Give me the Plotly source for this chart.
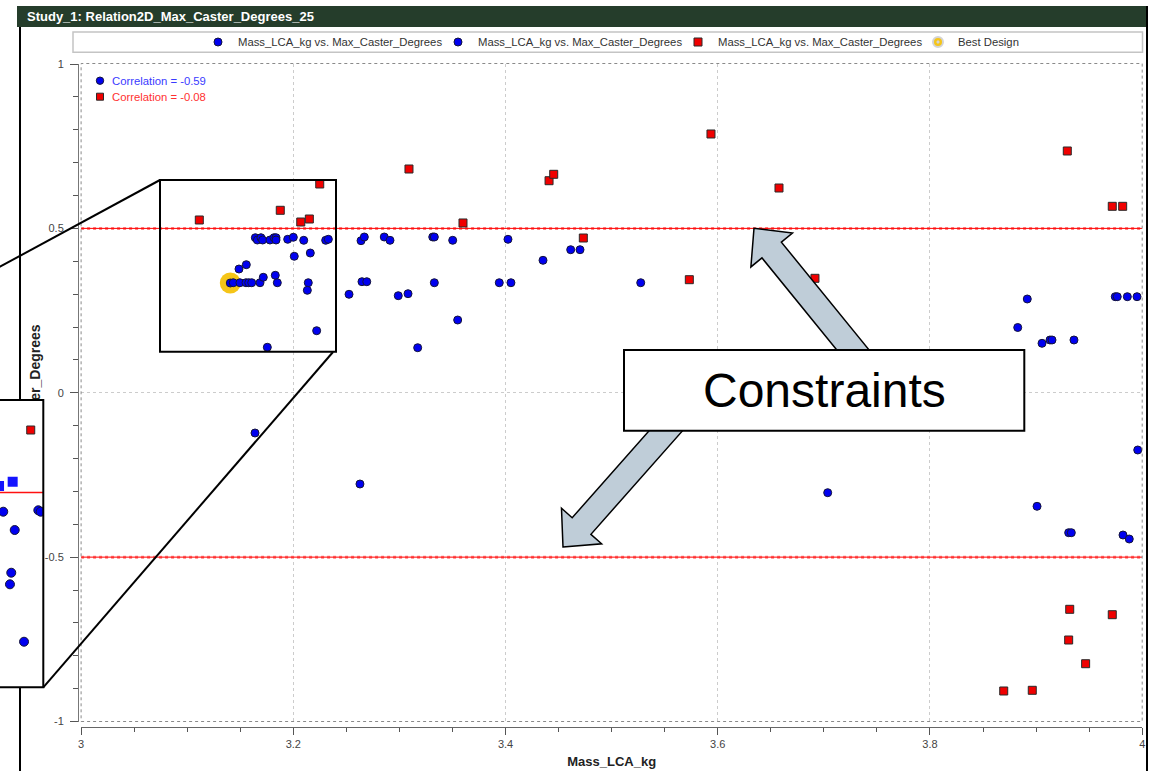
import plotly.graph_objects as go

W, H = 1156, 771

# ---- study results: Mass_LCA_kg vs. Max_Caster_Degrees ----
blue_a_mass = [3.1642, 3.1661, 3.1695, 3.1711, 3.1780, 3.1818, 3.1837, 3.1837, 3.1947, 3.2000,
               3.2098, 3.2305, 3.2330, 3.2009, 3.2160, 3.1488, 3.1557, 3.1406, 3.1434, 3.1497,
               3.1554, 3.1580, 3.1608, 3.1686, 3.1717, 3.1830, 3.1849, 3.2141, 3.2132, 3.2220,
               3.1755, 3.2525, 3.2638, 3.2669, 3.2857, 3.2911, 3.3314, 3.3329, 3.3502, 3.4023,
               3.4353, 3.4614, 3.4702, 3.2647, 3.2692, 3.2989, 3.3081, 3.3329, 3.3941, 3.4051,
               3.3549, 3.3172, 3.5274, 3.7036, 3.1639, 3.2628]
blue_a_caster = [0.4716, 0.4646, 0.4716, 0.4646, 0.4646, 0.4716, 0.4716, 0.4646, 0.4668, 0.4729,
                 0.4637, 0.4637, 0.4668, 0.4151, 0.4251, 0.3764, 0.3895, 0.3338, 0.3347, 0.3347,
                 0.3347, 0.3347, 0.3347, 0.3347, 0.3512, 0.3573, 0.3347, 0.3347, 0.3116, 0.1887,
                 0.1383, 0.2995, 0.4625, 0.4738, 0.4738, 0.4637, 0.4738, 0.4738, 0.4637, 0.4668,
                 0.4029, 0.4351, 0.4351, 0.3378, 0.3378, 0.2952, 0.3013, 0.3347, 0.3347, 0.3347,
                 0.2213, 0.1370, 0.3347, -0.3040, -0.1224, -0.2776]

blue_b_mass = [3.8917, 3.8827, 3.9056, 3.9131, 3.9150, 3.9357, 3.9746, 3.9765, 3.9860, 3.9951,
               3.9958, 3.9009, 3.9307, 3.9332, 3.9819, 3.9878]
blue_b_caster = [0.2852, 0.1985, 0.1504, 0.1605, 0.1605, 0.1605, 0.2922, 0.2922, 0.2922, 0.2922,
                 -0.1741, -0.3454, -0.4257, -0.4257, -0.4327, -0.4449]

red_mass = [3.1114, 3.1877, 3.2070, 3.2151, 3.2249, 3.3090, 3.4410, 3.4454, 3.3599, 3.4733,
            3.5936, 3.6577, 3.5732, 3.6916, 3.9294, 3.9718, 3.9816, 3.9317, 3.9718, 3.9307,
            3.9467, 3.8695, 3.8964]
red_caster = [0.5255, 0.5550, 0.5194, 0.5285, 0.6350, 0.6806, 0.6450, 0.6645, 0.5164, 0.4707,
              0.7871, 0.6228, 0.3439, 0.3481, 0.7354, 0.5671, 0.5671, -0.6587, -0.6751, -0.7521,
              -0.8242, -0.9072, -0.9051]

best_mass = [3.1406]
best_caster = [0.3338]

corr_blue = -0.59
corr_red = -0.08
constraint_limits = [0.5, -0.5]

mass_range = [3.0, 4.0]
caster_range = [-1.0, 1.0]
mass_ticks = [3.0, 3.2, 3.4, 3.6, 3.8, 4.0]
mass_ticktext = ["3", "3.2", "3.4", "3.6", "3.8", "4"]
caster_ticks = [-1.0, -0.5, 0.0, 0.5, 1.0]
caster_ticktext = ["-1", "-0.5", "0", "0.5", "1"]

# ---- magnified detail view ----
zoom_mass_range = [3.20, 3.24]
zoom_caster_range = [0.10, 0.69]
zoom_circle_mass = [3.2030, 3.2354, 3.2376, 3.2136, 3.2104, 3.2092, 3.2222]
zoom_circle_caster = [0.4606, 0.4635, 0.4606, 0.4230, 0.3353, 0.3115, 0.1936]
zoom_square_mass = [3.2117, 3.1991]
zoom_square_caster = [0.5222, 0.5134]
zoom_red_mass = [3.2284]
zoom_red_caster = [0.6284]

SERIES = "Mass_LCA_kg vs. Max_Caster_Degrees"
FONT = "Arial, Liberation Sans, sans-serif"
BLUE = "#0000F0"
RED = "#F00000"
GOLD = "#F5C518"


def px(x):
    return x / W


def py(y):
    return 1 - y / H


def poly_path(points):
    return "M " + " L ".join(f"{px(a):.5f},{py(b):.5f}" for a, b in points) + " Z"


def block_arrow(tip, tail, head_len=28.0, head_half=26.8, shaft_half=12.5):
    dx, dy = tail[0] - tip[0], tail[1] - tip[1]
    n = (dx * dx + dy * dy) ** 0.5
    dx, dy = dx / n, dy / n
    nx, ny = -dy, dx
    bx, by = tip[0] + head_len * dx, tip[1] + head_len * dy
    pts = [tip,
           (bx + head_half * nx, by + head_half * ny),
           (bx + shaft_half * nx, by + shaft_half * ny),
           (tail[0] + shaft_half * nx, tail[1] + shaft_half * ny),
           (tail[0] - shaft_half * nx, tail[1] - shaft_half * ny),
           (bx - shaft_half * nx, by - shaft_half * ny),
           (bx - head_half * nx, by - head_half * ny)]
    return poly_path(pts)


fig = go.Figure()

# constraint limits (hatched band with a solid core line)
for lim in constraint_limits:
    fig.add_trace(go.Scatter(x=mass_range, y=[lim, lim], mode="lines", showlegend=False,
                             line=dict(color="#ff8080", width=3, dash="dot"), hoverinfo="skip"))
    fig.add_trace(go.Scatter(x=mass_range, y=[lim, lim], mode="lines", showlegend=False,
                             line=dict(color="#ff0000", width=1), hoverinfo="skip"))

# best design halo below the points
fig.add_trace(go.Scatter(x=best_mass, y=best_caster, mode="markers", showlegend=False,
                         marker=dict(size=21, color=GOLD, line=dict(width=0)),
                         hoverinfo="skip"))
fig.add_trace(go.Scatter(x=blue_a_mass, y=blue_a_caster, mode="markers", name=SERIES,
                         legendrank=1,
                         marker=dict(symbol="circle", size=8, color=BLUE,
                                     line=dict(color="#14143a", width=1))))
fig.add_trace(go.Scatter(x=blue_b_mass, y=blue_b_caster, mode="markers", name=SERIES,
                         legendrank=2,
                         marker=dict(symbol="circle", size=8, color=BLUE,
                                     line=dict(color="#14143a", width=1))))
fig.add_trace(go.Scatter(x=red_mass, y=red_caster, mode="markers", name=SERIES,
                         legendrank=3,
                         marker=dict(symbol="square", size=8, color=RED,
                                     line=dict(color="#2a2a2a", width=1))))
# legend key for the best design
fig.add_trace(go.Scatter(x=[None], y=[None], mode="markers", name="Best Design",
                         legendrank=4,
                         marker=dict(symbol="circle-dot", size=10, color=GOLD,
                                     line=dict(color="#d4d4d4", width=2))))

# rotated axis caption carried by a tick label on an overlay axis
fig.add_trace(go.Scatter(x=[None], y=[None], yaxis="y3", showlegend=False,
                         hoverinfo="skip"))

# detail view
zx0, zx1 = zoom_mass_range
zy0, zy1 = zoom_caster_range
fig.add_trace(go.Scatter(x=[zx0 - 1, zx1, zx1, zx0 - 1, zx0 - 1],
                         y=[zy0, zy0, zy1, zy1, zy0], xaxis="x2", yaxis="y2",
                         mode="lines", fill="toself", fillcolor="white",
                         line=dict(width=0), showlegend=False, hoverinfo="skip"))
fig.add_trace(go.Scatter(x=[zx0 - 1, zx1], y=[constraint_limits[0]] * 2, xaxis="x2", yaxis="y2",
                         mode="lines", line=dict(color="#ff1010", width=1.6),
                         showlegend=False, hoverinfo="skip"))
fig.add_trace(go.Scatter(x=zoom_red_mass, y=zoom_red_caster, xaxis="x2", yaxis="y2",
                         mode="markers", showlegend=False,
                         marker=dict(symbol="square", size=8, color=RED,
                                     line=dict(color="#2a2a2a", width=1))))
fig.add_trace(go.Scatter(x=zoom_square_mass, y=zoom_square_caster, xaxis="x2", yaxis="y2",
                         mode="markers", showlegend=False,
                         marker=dict(symbol="square", size=10, color="#1414ff",
                                     line=dict(width=0))))
fig.add_trace(go.Scatter(x=zoom_circle_mass, y=zoom_circle_caster, xaxis="x2", yaxis="y2",
                         mode="markers", showlegend=False,
                         marker=dict(symbol="circle", size=9, color=BLUE,
                                     line=dict(color="#14143a", width=1))))

shapes = []
# window frame and title bar
shapes.append(dict(type="rect", xref="paper", yref="paper", layer="below",
                   x0=px(17), x1=px(1148), y0=py(27), y1=py(6),
                   fillcolor="#253D2B", line=dict(width=0)))
shapes.append(dict(type="line", xref="paper", yref="paper", layer="below",
                   x0=px(20), x1=px(20), y0=py(27), y1=py(H + 2),
                   line=dict(color="black", width=2)))
shapes.append(dict(type="line", xref="paper", yref="paper", layer="below",
                   x0=px(1147), x1=px(1147), y0=py(6), y1=py(H + 2),
                   line=dict(color="black", width=2)))
# legend frame
shapes.append(dict(type="rect", xref="paper", yref="paper", layer="below",
                   x0=px(73), x1=px(1142.5), y0=py(52.3), y1=py(32),
                   fillcolor="white", line=dict(color="#c4c4c4", width=1.5)))
# plot frame
shapes.append(dict(type="rect", xref="paper", yref="paper", layer="above",
                   x0=px(81.1), x1=px(1142.2), y0=py(721.5), y1=py(63.5),
                   line=dict(color="#8a8a8a", width=1, dash="dot")))
# magnifier rectangle and connectors
shapes.append(dict(type="rect", xref="paper", yref="paper", layer="above",
                   x0=px(160), x1=px(336), y0=py(351.7), y1=py(180),
                   line=dict(color="black", width=2)))
shapes.append(dict(type="line", xref="paper", yref="paper", layer="above",
                   x0=px(-10), y0=py(272.1), x1=px(160), y1=py(180),
                   line=dict(color="black", width=2)))
shapes.append(dict(type="line", xref="paper", yref="paper", layer="above",
                   x0=px(43.3), y0=py(687.3), x1=px(333), y1=py(352),
                   line=dict(color="black", width=2)))
shapes.append(dict(type="rect", xref="paper", yref="paper", layer="above",
                   x0=px(-5), x1=px(43.3), y0=py(687.3), y1=py(400),
                   line=dict(color="black", width=2)))
# correlation keys
shapes.append(dict(type="circle", xref="paper", yref="paper", layer="above",
                   x0=px(96.3), x1=px(103.7), y0=py(84.4), y1=py(77),
                   fillcolor=BLUE, line=dict(color="#14143a", width=1)))
shapes.append(dict(type="rect", xref="paper", yref="paper", layer="above",
                   x0=px(96.5), x1=px(103.5), y0=py(100.2), y1=py(93.2),
                   fillcolor=RED, line=dict(color="#2a2a2a", width=1)))
# callout arrows pointing at the constraint limits, then the callout box
for tip, tail in [((754.0, 228.3), (866.0, 366.0)), ((563.0, 547.0), (681.0, 413.6))]:
    shapes.append(dict(type="path", xref="paper", yref="paper", layer="above",
                       path=block_arrow(tip, tail), fillcolor="#BFCDD8",
                       line=dict(color="black", width=1.5)))
shapes.append(dict(type="rect", xref="paper", yref="paper", layer="above",
                   x0=px(624), x1=px(1024.3), y0=py(430.7), y1=py(350),
                   fillcolor="white", line=dict(color="black", width=2)))

annotations = [
    dict(xref="paper", yref="paper", x=px(25), y=py(16.5), xanchor="left", yanchor="middle",
         text="<b>Study_1: Relation2D_Max_Caster_Degrees_25</b>", showarrow=False,
         font=dict(family=FONT, size=13, color="white")),
    dict(xref="paper", yref="paper", x=px(110), y=py(80.7), xanchor="left", yanchor="middle",
         text=f"Correlation = {corr_blue:.2f}", showarrow=False,
         font=dict(family=FONT, size=11.3, color="#3a3aff")),
    dict(xref="paper", yref="paper", x=px(110), y=py(96.7), xanchor="left", yanchor="middle",
         text=f"Correlation = {corr_red:.2f}", showarrow=False,
         font=dict(family=FONT, size=11.3, color="#ff3030")),
    dict(xref="paper", yref="paper", x=px(824), y=py(390), xanchor="center", yanchor="middle",
         text="Constraints", showarrow=False,
         font=dict(family=FONT, size=48, color="black")),
]

# caption sits slightly below the vertical centre of the axis
caption_pos = (caster_range[0] + caster_range[1]) / 2 - 0.014

fig.update_layout(
    width=W, height=H,
    margin=dict(l=0, r=0, t=0, b=0, autoexpand=False),
    paper_bgcolor="white", plot_bgcolor="white",
    font=dict(family=FONT, size=11, color="#444"),
    showlegend=True,
    legend=dict(orientation="h", x=px(678), xanchor="center", y=py(42), yanchor="middle",
                bgcolor="rgba(0,0,0,0)", borderwidth=0, traceorder="normal",
                entrywidth=195, entrywidthmode="pixels",
                font=dict(family=FONT, size=11.3, color="#333"), itemclick=False),
    xaxis=dict(domain=[px(81.1), px(1142.2)], range=mass_range, anchor="free",
               position=py(727), tickmode="array", tickvals=mass_ticks, ticktext=mass_ticktext,
               ticks="outside", ticklen=7, tickcolor="#555", tickwidth=1,
               showline=True, linecolor="#666", linewidth=1,
               showgrid=True, gridcolor="#cccccc", griddash="dot", gridwidth=1, zeroline=False,
               tickfont=dict(size=11, color="#444"),
               minor=dict(tickmode="linear", tick0=3, dtick=0.05, ticks="outside", ticklen=4,
                          tickcolor="#555", showgrid=False),
               title=dict(text="<b>Mass_LCA_kg</b>", standoff=7,
                          font=dict(size=13, color="#222"))),
    yaxis=dict(domain=[py(721.5), py(64)], range=caster_range, anchor="free", position=px(78),
               tickmode="array", tickvals=caster_ticks, ticktext=caster_ticktext,
               ticks="outside", ticklen=8, tickcolor="#555", tickwidth=1,
               showline=True, linecolor="#777", linewidth=1,
               showgrid=True, gridcolor="#cccccc", griddash="dot", gridwidth=1, zeroline=False,
               tickfont=dict(size=11, color="#444"), ticklabelstandoff=4,
               minor=dict(tickmode="linear", tick0=-1, dtick=0.1, ticks="outside", ticklen=5,
                          tickcolor="#555", showgrid=False)),
    yaxis3=dict(overlaying="y", anchor="free", position=px(43), side="left",
                range=caster_range, tickmode="array",
                tickvals=[caption_pos],
                ticktext=["<b>Max_Caster_Degrees</b>"], tickangle=-90, ticks="",
                showline=False, showgrid=False, zeroline=False,
                tickfont=dict(size=14, color="#222")),
    xaxis2=dict(domain=[0, px(43.3)], range=zoom_mass_range, anchor="y2", visible=False),
    yaxis2=dict(domain=[py(687.3), py(400)], range=zoom_caster_range, anchor="x2", visible=False),
    shapes=shapes,
    annotations=annotations,
)

fig.write_html("out.html")
